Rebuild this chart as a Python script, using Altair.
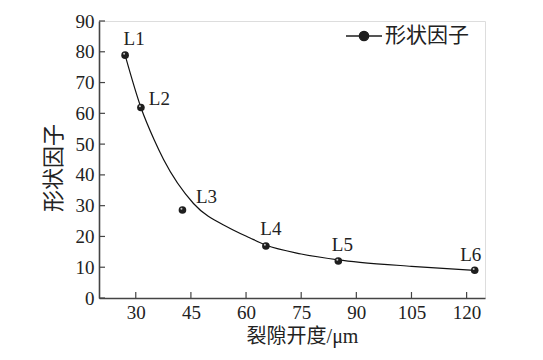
import altair as alt
import pandas as pd

# measured points
labels = ["L1", "L2", "L3", "L4", "L5", "L6"]
aperture = [27.1, 31.4, 42.7, 65.4, 85.1, 122.2]
shape_factor = [78.9, 61.9, 28.6, 16.9, 12.0, 9.0]

# fitted curve
curve_x = [27.1, 31.4, 35.0, 37.6, 45.7, 55.7, 61.1, 65.4, 75.0, 85.1, 91.0, 105.0, 122.2]
curve_y = [78.9, 61.9, 51.4, 44.9, 30.7, 22.6, 19.5, 17.2, 14.3, 12.4, 11.6, 10.3, 9.0]

x_ticks = [30, 45, 60, 75, 90, 105, 120]
y_ticks = [0, 10, 20, 30, 40, 50, 60, 70, 80, 90]

series_name = "形状因子"
FONT = "Liberation Serif, Noto Sans CJK SC"
NUMFONT = "Liberation Serif"
TXT = "#222222"
AX = "#444444"

pts = pd.DataFrame({"label": labels, "x": aperture, "y": shape_factor, "s": series_name})
crv = pd.DataFrame({"x": curve_x, "y": curve_y})
xt = pd.DataFrame({"v": x_ticks})
yt = pd.DataFrame({"v": y_ticks})

W, H = 386, 277
xs = alt.Scale(domain=[20, 125], nice=False, zero=False)
ys = alt.Scale(domain=[0, 90], nice=False)

xaxis = alt.Axis(values=x_ticks, title="裂隙开度/μm", titleFontSize=20, titlePadding=4,
                 labelFont=NUMFONT, titleFont=FONT, titleX=W / 2 + 10)
yaxis = alt.Axis(values=y_ticks, title=series_name, titleFontSize=22, titlePadding=10,
                 labelFont=NUMFONT, titleFont=FONT, titleY=H / 2 + 8)

line = alt.Chart(crv).mark_line(color="#111111", strokeWidth=1.2, interpolate="monotone").encode(
    x=alt.X("x:Q", scale=xs, axis=xaxis),
    y=alt.Y("y:Q", scale=ys, axis=yaxis),
)

legend_symbol = ("M -1 0 L -0.26 0 M 0.26 0 L 1 0 "
                 "M 0.26 0 A 0.26 0.26 0 1 1 -0.26 0 A 0.26 0.26 0 1 1 0.26 0 Z")

points = alt.Chart(pts).mark_point(filled=True, size=58, opacity=1, shape="circle").encode(
    x=alt.X("x:Q", scale=xs, axis=xaxis),
    y=alt.Y("y:Q", scale=ys, axis=yaxis),
    color=alt.Color("s:N", scale=alt.Scale(range=["#1e1e1e"]),
                    legend=alt.Legend(title=None, orient="none", legendX=246, legendY=-4,
                                      symbolType=legend_symbol, symbolSize=1300,
                                      symbolStrokeWidth=1.3, symbolStrokeColor="#1e1e1e",
                                      symbolFillColor="#1e1e1e",
                                      labelFont=FONT, labelFontSize=21, labelColor=TXT,
                                      labelOffset=2, padding=0)),
)

shine = alt.Chart(pts).mark_circle(size=4, color="#c8c8c8", opacity=1, xOffset=-1.0, yOffset=-1.3).encode(
    x=alt.X("x:Q", scale=xs, axis=xaxis),
    y=alt.Y("y:Q", scale=ys, axis=yaxis),
)

xtick_rules = alt.Chart(xt).mark_rule(color=AX, strokeWidth=1.2).encode(
    x=alt.X("v:Q", scale=xs, axis=xaxis), y=alt.value(H), y2=alt.value(H - 6))
ytick_rules = alt.Chart(yt).mark_rule(color=AX, strokeWidth=1.2).encode(
    y=alt.Y("v:Q", scale=ys, axis=yaxis), x=alt.value(0), x2=alt.value(6))

offsets = {"L1": (9, -16), "L2": (18.5, -8), "L3": (24, -13),
           "L4": (5, -17), "L5": (4, -16), "L6": (-4, -15)}
text_layers = []
for lab in labels:
    dx, dy = offsets[lab]
    text_layers.append(
        alt.Chart(pts).transform_filter(alt.datum.label == lab).mark_text(
            font=NUMFONT, fontSize=19, color=TXT, align="center", baseline="middle", dx=dx, dy=dy
        ).encode(x=alt.X("x:Q", scale=xs, axis=xaxis), y=alt.Y("y:Q", scale=ys, axis=yaxis),
                 text="label:N")
    )

chart = alt.layer(line, xtick_rules, ytick_rules, points, shine, *text_layers).properties(
    width=W, height=H,
    padding={"left": 91, "top": 13, "right": 30, "bottom": 56},
    autosize=alt.AutoSizeParams(type="none"),
).configure_view(stroke=None).configure(background="white", font=NUMFONT).configure_axis(
    ticks=False, grid=False, domainColor=AX, domainWidth=1.6,
    labelFont=NUMFONT, labelFontSize=19, labelColor=TXT, labelPadding=5, labelOverlap=False,
    labelFlush=False,
    titleFont=FONT, titleFontWeight="normal", titleColor=TXT,
)

chart.save("out.html", embed_options={"renderer": "svg", "actions": False})
